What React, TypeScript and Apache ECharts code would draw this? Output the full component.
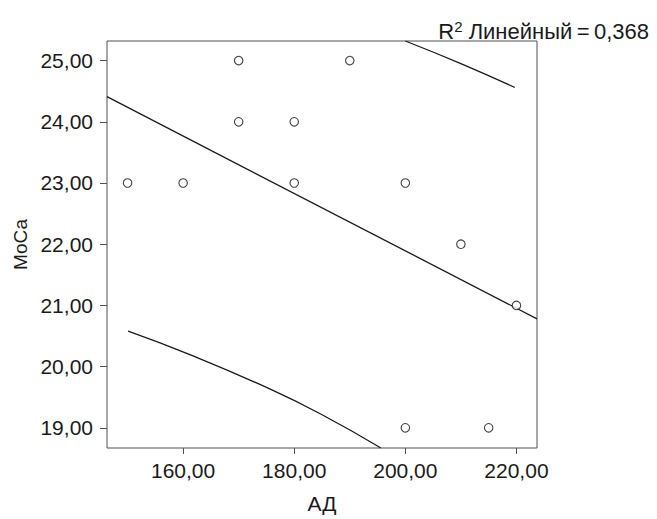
import React, { useEffect, useRef } from "react";
import * as echarts from "echarts";

const adValues = [150, 160, 170, 170, 180, 180, 190, 200, 210, 220, 200, 215];
const mocaValues = [23, 23, 25, 24, 24, 23, 25, 23, 22, 21, 19, 19];
const fitLine = [[146.3, 24.41], [223.7, 20.78]];
const upperBound = [[200.0, 25.32], [210.0, 24.95], [219.7, 24.56]];
const lowerBound = [[150.1, 20.58], [161.1, 20.2], [175.5, 19.64], [185.1, 19.21], [195.6, 18.67]];
const xTicks = [160, 180, 200, 220];
const yTicks = [19, 20, 21, 22, 23, 24, 25];
const r2Text = "0,368";

const FONT = "'Liberation Sans', Arial, Helvetica, sans-serif";
const fmt = (v: number) => v.toFixed(2).replace(".", ",");

export default function App() {
  const ref = useRef<HTMLDivElement>(null);
  useEffect(() => {
    if (!ref.current) return;
    const chart = echarts.init(ref.current, null, { renderer: "svg" });
    const points = adValues.map((x, i) => [x, mocaValues[i]]);
    const lineStyle = { color: "#1a1a1a", width: 1.3 };
    chart.setOption({
      animation: false,
      backgroundColor: "#fff",
      title: {
        text: "{r|R}{s|2}{r| Линейный\u2009=\u20090,368}".replace("0,368", r2Text),
        right: 3,
        top: 14,
        textStyle: {
          fontWeight: "normal",
          rich: {
            r: { fontFamily: FONT, fontSize: 22, fontWeight: "normal", color: "#1a1a1a" },
            s: { fontFamily: FONT, fontSize: 15, fontWeight: "normal", color: "#1a1a1a", padding: [0, 0, 9, 0] },
          },
        },
      },
      grid: {
        left: 107,
        top: 41,
        right: 120,
        bottom: 66,
        show: true,
        borderColor: "#505050",
        borderWidth: 1,
        backgroundColor: "#fff",
      },
      xAxis: {
        type: "value",
        min: 146.3,
        max: 223.7,
        name: "АД",
        nameLocation: "middle",
        nameGap: 45,
        nameTextStyle: { fontFamily: FONT, fontSize: 21, color: "#1a1a1a" },
        axisLine: { show: false },
        splitLine: { show: false },
        axisTick: { show: true, length: 6, customValues: xTicks, lineStyle: { color: "#505050" } },
        axisLabel: {
          customValues: xTicks,
          margin: 12,
          fontFamily: FONT,
          fontSize: 21,
          color: "#1a1a1a",
          formatter: (v: number) => fmt(v),
        },
      },
      yAxis: {
        type: "value",
        min: 18.67,
        max: 25.32,
        name: "МоСа",
        nameLocation: "middle",
        nameGap: 76,
        nameTextStyle: { fontFamily: FONT, fontSize: 19, color: "#1a1a1a" },
        axisLine: { show: false },
        splitLine: { show: false },
        axisTick: { show: true, length: 7, customValues: yTicks, lineStyle: { color: "#505050" } },
        axisLabel: {
          customValues: yTicks,
          margin: 14,
          fontFamily: FONT,
          fontSize: 21,
          color: "#1a1a1a",
          formatter: (v: number) => fmt(v),
        },
      },
      series: [
        { type: "line", data: fitLine, symbol: "none", lineStyle, silent: true },
        { type: "line", data: upperBound, symbol: "none", smooth: true, lineStyle, silent: true },
        { type: "line", data: lowerBound, symbol: "none", smooth: true, lineStyle, silent: true },
        {
          type: "scatter",
          data: points,
          symbol: "circle",
          symbolSize: 8.5,
          itemStyle: { color: "#fff", borderColor: "#111", borderWidth: 1.1 },
          z: 5,
        },
      ],
    });
    return () => chart.dispose();
  }, []);
  return (
    <div
      ref={ref}
      style={{ position: "fixed", left: 0, top: 0, width: 657, height: 519 }}
    />
  );
}
